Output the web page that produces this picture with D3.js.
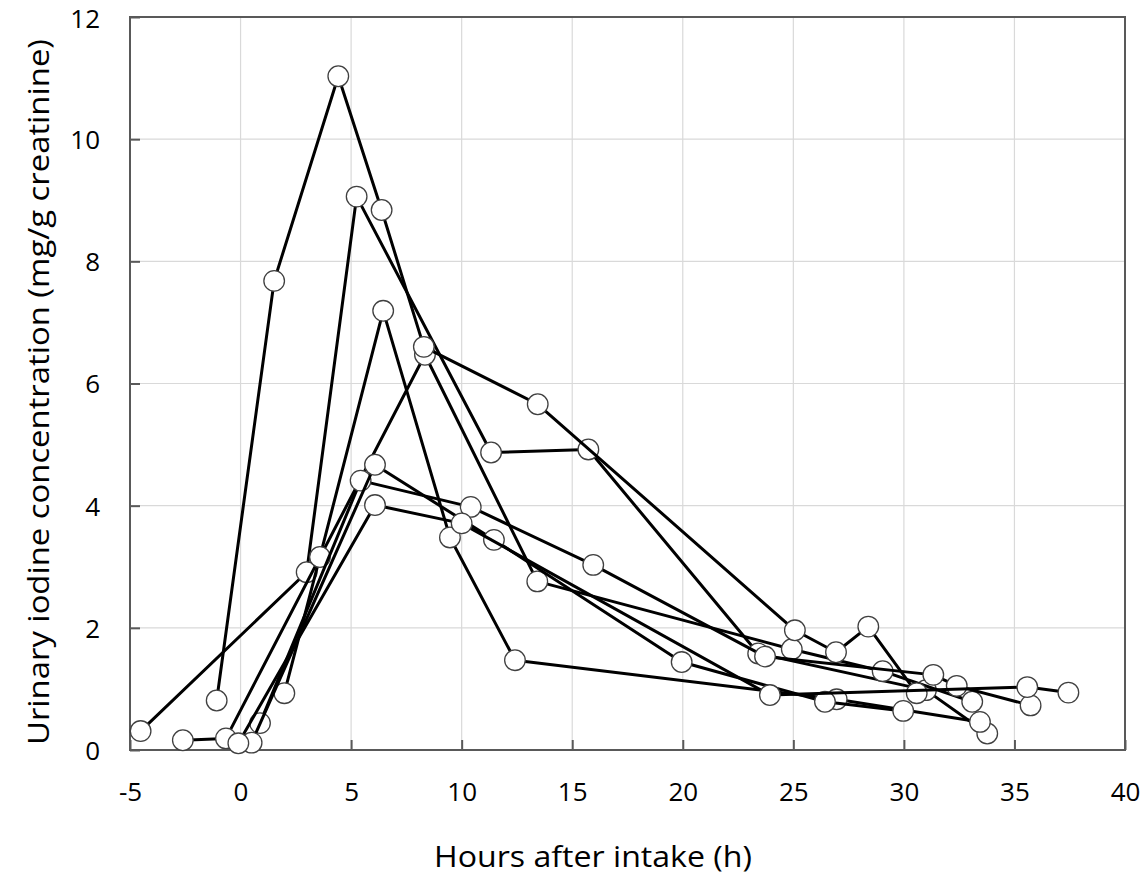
<!DOCTYPE html>
<html>
<head>
<meta charset="utf-8">
<script src="https://cdn.jsdelivr.net/npm/d3@7"></script>
<style>
  html, body { margin: 0; padding: 0; background: #ffffff; }
  svg { display: block; }
</style>
</head>
<body>
<svg id="chart" width="1142" height="877"></svg>
<script>
// Urinary iodine concentration after intake, one polyline per subject
const subjects = ["S1", "S2", "S3", "S4", "S5", "S6", "S7"];

const hoursS1 = [-4.52, 2.99, 5.25, 11.33, 15.73, 23.41, 31.0, 33.77];
const iodineS1 = [0.31, 2.91, 9.06, 4.87, 4.92, 1.58, 0.98, 0.27];

const hoursS2 = [-2.61, -0.66, 8.34, 13.42, 24.93, 29.04, 33.09];
const iodineS2 = [0.16, 0.19, 6.47, 2.76, 1.65, 1.29, 0.79];

const hoursS3 = [-1.08, 1.52, 4.42, 6.38, 8.29, 13.44, 25.07, 26.93, 28.39, 30.58];
const iodineS3 = [0.81, 7.68, 11.03, 8.84, 6.60, 5.66, 1.96, 1.60, 2.02, 0.93];

const hoursS4 = [1.98, 3.59, 6.45, 9.47, 12.41, 26.96, 33.44];
const iodineS4 = [0.93, 3.16, 7.19, 3.48, 1.47, 0.83, 0.46];

const hoursS5 = [0.88, 5.43, 10.41, 15.95, 23.72, 31.33, 32.39, 35.73];
const iodineS5 = [0.44, 4.41, 3.98, 3.03, 1.53, 1.23, 1.05, 0.73];

const hoursS6 = [0.50, 6.08, 11.46, 19.95, 26.43, 29.97];
const iodineS6 = [0.12, 4.67, 3.44, 1.44, 0.79, 0.64];

const hoursS7 = [-0.10, 6.08, 10.0, 23.94, 35.58, 37.44];
const iodineS7 = [0.11, 4.01, 3.71, 0.90, 1.03, 0.94];

const xTicks = [-5, 0, 5, 10, 15, 20, 25, 30, 35, 40];
const yTicks = [0, 2, 4, 6, 8, 10, 12];

const xTitle = "Hours after intake (h)";
const yTitle = "Urinary iodine concentration (mg/g creatinine)";

const hours = [hoursS1, hoursS2, hoursS3, hoursS4, hoursS5, hoursS6, hoursS7];
const iodine = [iodineS1, iodineS2, iodineS3, iodineS4, iodineS5, iodineS6, iodineS7];
const series = subjects.map((name, i) => ({
  name,
  points: hours[i].map((h, j) => ({ h, v: iodine[i][j] }))
}));

const svg = d3.select("#chart");
const plot = { left: 130, right: 1125, top: 17, bottom: 750 };

const x = d3.scaleLinear().domain([-5, 40]).range([plot.left, plot.right]);
const y = d3.scaleLinear().domain([0, 12]).range([plot.bottom, plot.top]);

const font = "'Open Sans', 'Noto Sans', sans-serif";
const frameColor = "#595959";
const plainNumber = d => String(d);

// gridlines
svg.append("g")
  .selectAll("line")
  .data(xTicks.filter(t => t > -5 && t < 40))
  .join("line")
  .attr("x1", d => x(d)).attr("x2", d => x(d))
  .attr("y1", plot.top).attr("y2", plot.bottom)
  .attr("stroke", "#d9d9d9").attr("stroke-width", 1.2);

svg.append("g")
  .selectAll("line")
  .data(yTicks.filter(t => t > 0 && t < 12))
  .join("line")
  .attr("x1", plot.left).attr("x2", plot.right)
  .attr("y1", d => y(d)).attr("y2", d => y(d))
  .attr("stroke", "#d9d9d9").attr("stroke-width", 1.2);

// axes with inward ticks
const xAxis = svg.append("g")
  .attr("transform", `translate(0,${plot.bottom})`)
  .call(d3.axisBottom(x).tickValues(xTicks).tickSizeInner(-10).tickSizeOuter(0).tickFormat(plainNumber));
const yAxis = svg.append("g")
  .attr("transform", `translate(${plot.left},0)`)
  .call(d3.axisLeft(y).tickValues(yTicks).tickSizeInner(-10).tickSizeOuter(0).tickFormat(plainNumber));

[xAxis, yAxis].forEach(ax => {
  ax.select(".domain").remove();
  ax.selectAll(".tick line").attr("stroke", frameColor).attr("stroke-width", 2);
  ax.selectAll(".tick text")
    .attr("fill", "#000")
    .style("font-family", font)
    .style("font-size", "26px");
});
xAxis.selectAll(".tick text").attr("dy", "0.71em").attr("y", 33);
yAxis.selectAll(".tick text").attr("x", -30).attr("dy", "0.36em");
// keep the top label fully inside the page
yAxis.selectAll(".tick text").filter(d => d === 12).attr("dy", "0.42em");

// frame
svg.append("rect")
  .attr("x", plot.left).attr("y", plot.top)
  .attr("width", plot.right - plot.left).attr("height", plot.bottom - plot.top)
  .attr("fill", "none").attr("stroke", frameColor).attr("stroke-width", 2);

// subject lines and markers
const line = d3.line().x(d => x(d.h)).y(d => y(d.v));
const marks = svg.append("g");
series.forEach(s => {
  const g = marks.append("g").attr("class", "subject");
  g.append("path")
    .attr("d", line(s.points))
    .attr("fill", "none")
    .attr("stroke", "#000")
    .attr("stroke-width", 3)
    .attr("stroke-linejoin", "round");
  g.selectAll("circle")
    .data(s.points)
    .join("circle")
    .attr("cx", d => x(d.h))
    .attr("cy", d => y(d.v))
    .attr("r", 10.3)
    .attr("fill", "#fff")
    .attr("stroke", "#404040")
    .attr("stroke-width", 1.3);
});

// axis titles
svg.append("text")
  .attr("x", 593).attr("y", 867)
  .attr("text-anchor", "middle")
  .attr("textLength", 318).attr("lengthAdjust", "spacingAndGlyphs")
  .style("font-family", font).style("font-size", "30px")
  .text(xTitle);

svg.append("text")
  .attr("transform", `translate(49,392) rotate(-90)`)
  .attr("text-anchor", "middle")
  .attr("textLength", 706).attr("lengthAdjust", "spacingAndGlyphs")
  .style("font-family", font).style("font-size", "30px")
  .text(yTitle);
</script>
</body>
</html>
